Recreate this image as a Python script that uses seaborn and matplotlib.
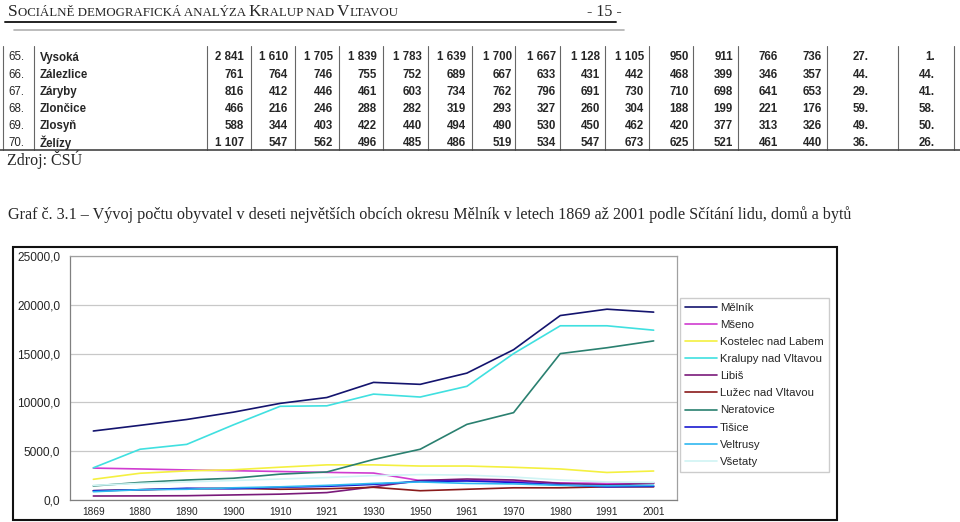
import numpy as np
import pandas as pd
import seaborn as sns
import matplotlib
matplotlib.use("Agg")
import matplotlib.pyplot as plt
from matplotlib.lines import Line2D
from matplotlib.patches import Rectangle

# --- DATA: tabulka (obce 65-70) ---
row_nums = ["65.", "66.", "67.", "68.", "69.", "70."]
row_names = ["Vysoká", "Zálezlice", "Záryby", "Zlončice", "Zlosyň", "Želízy"]
vysoka = ["2 841", "1 610", "1 705", "1 839", "1 783", "1 639", "1 700", "1 667", "1 128", "1 105", "950", "911", "766", "736", "27.", "1."]
zalezlice = ["761", "764", "746", "755", "752", "689", "667", "633", "431", "442", "468", "399", "346", "357", "44.", "44."]
zaryby = ["816", "412", "446", "461", "603", "734", "762", "796", "691", "730", "710", "698", "641", "653", "29.", "41."]
zloncice = ["466", "216", "246", "288", "282", "319", "293", "327", "260", "304", "188", "199", "221", "176", "59.", "58."]
zlosyn = ["588", "344", "403", "422", "440", "494", "490", "530", "450", "462", "420", "377", "313", "326", "49.", "50."]
zelizy = ["1 107", "547", "562", "496", "485", "486", "519", "534", "547", "673", "625", "521", "461", "440", "36.", "26."]
table_rows = [vysoka, zalezlice, zaryby, zloncice, zlosyn, zelizy]

# --- DATA: graf 3.1 ---
years = ["1869", "1880", "1890", "1900", "1910", "1921", "1930", "1950", "1961", "1970", "1980", "1991", "2001"]
melnik = [7070, 7650, 8250, 9000, 9900, 10500, 12050, 11850, 13000, 15400, 18900, 19550, 19250]
mseno = [3270, 3180, 3080, 3000, 2920, 2830, 2760, 1990, 2000, 1900, 1750, 1700, 1750]
kostelec = [2120, 2740, 2980, 3100, 3360, 3600, 3600, 3480, 3480, 3350, 3180, 2820, 2970]
kralupy = [3300, 5200, 5700, 7700, 9600, 9650, 10850, 10550, 11650, 15000, 17850, 17850, 17400]
libis = [410, 420, 440, 520, 600, 760, 1350, 2000, 2150, 2050, 1700, 1550, 1700]
luzec = [950, 1050, 1150, 1200, 1100, 1150, 1300, 950, 1100, 1250, 1250, 1350, 1350]
neratovice = [1440, 1800, 2050, 2230, 2650, 2870, 4150, 5200, 7750, 8950, 15000, 15600, 16300]
tisice = [950, 1050, 1200, 1150, 1300, 1400, 1600, 1900, 1950, 1800, 1550, 1350, 1400]
veltrusy = [850, 1050, 1100, 1250, 1350, 1500, 1700, 1850, 1700, 1650, 1500, 1450, 1500]
vsetaty = [1500, 1700, 1850, 2000, 2150, 2300, 2500, 2600, 2550, 2350, 2050, 1850, 1800]

towns = ["Mělník", "Mšeno", "Kostelec nad Labem", "Kralupy nad Vltavou", "Libiš",
         "Lužec nad Vltavou", "Neratovice", "Tišice", "Veltrusy", "Všetaty"]
series = [melnik, mseno, kostelec, kralupy, libis, luzec, neratovice, tisice, veltrusy, vsetaty]
colors = ["#14146e", "#d03cd0", "#f4f040", "#40e0e0", "#7a1a7a",
          "#8a1a1a", "#2a8070", "#1a1ad0", "#30b8f0", "#cff4f4"]
yticks = [0, 5000, 10000, 15000, 20000, 25000]

caption = ("Graf č. 3.1 – Vývoj počtu obyvatel v deseti největších obcích okresu Mělník "
           "v letech 1869 až 2001 podle Sčítání lidu, domů a bytů")

df = pd.DataFrame({
    "rok": years * len(towns),
    "obec": [t for t in towns for _ in years],
    "obyvatel": [v for s in series for v in s],
})

sns.set_style("white")
plt.rcParams['font.family'] = ['Liberation Sans', 'DejaVu Sans']

W, H = 960, 522
fig = plt.figure(figsize=(9.6, 5.22), dpi=100)


def fx(x):
    return x / W


def fy(y):
    return 1 - y / H


serif = ['Liberation Serif', 'DejaVu Serif']

# --- hlavička stránky (kapitálky) ---
renderer = fig.canvas.get_renderer()
x = 8
for piece, size in [("S", 12.5), ("OCIÁLNĚ DEMOGRAFICKÁ ANALÝZA ", 9.3), ("K", 12.5),
                    ("RALUP NAD ", 9.3), ("V", 12.5), ("LTAVOU", 9.3)]:
    t = fig.text(fx(x), fy(16), piece, fontsize=size, family=serif, va='baseline')
    x += t.get_window_extent(renderer).width
fig.text(fx(587), fy(16), "- 15 -", fontsize=11.5, family=serif, va='baseline')
fig.add_artist(Line2D([fx(5), fx(616)], [fy(22)] * 2, color='#222222', lw=1.4))
fig.add_artist(Line2D([fx(14), fx(624)], [fy(30)] * 2, color='#b0b0b0', lw=1.2))

# --- tabulka ---
col_right = [244, 288, 333, 377, 422, 466, 512, 556, 600, 644, 689, 733, 778, 822, 869, 935]
vlines = [3, 34, 207, 251, 295, 339, 383, 428, 472, 515, 560, 605, 649, 693, 738, 827, 898, 954]
for vx in vlines:
    fig.add_artist(Line2D([fx(vx)] * 2, [fy(46), fy(150)], color='#666666', lw=0.8))
fig.add_artist(Line2D([0, 1], [fy(150)] * 2, color='#444444', lw=1.2))
for i, (num, name, vals) in enumerate(zip(row_nums, row_names, table_rows)):
    ry = 57.5 + i * 17.1
    fig.text(fx(8), fy(ry), num, fontsize=8.3, va='center')
    fig.text(fx(40), fy(ry), name, fontsize=8.3, weight='bold', va='center')
    for r, v in zip(col_right, vals):
        fig.text(fx(r), fy(ry), v, fontsize=8.3, weight='bold', va='center', ha='right')

fig.text(fx(7), fy(160), "Zdroj: ČSÚ", fontsize=11.5, family=serif, va='center')
fig.text(fx(8), fy(215), caption, fontsize=11.6, family=serif, va='center')

# --- graf ---
fig.add_artist(Rectangle((fx(13), fy(520)), (837 - 13) / W, (520 - 247) / H,
                         transform=fig.transFigure, fill=False, edgecolor='#111111', lw=1.5))
ax = fig.add_axes([fx(70), fy(500), (677 - 70) / W, (500 - 256) / H])
sns.lineplot(data=df, x="rok", y="obyvatel", hue="obec", hue_order=towns,
             palette=dict(zip(towns, colors)), sort=False, estimator=None,
             linewidth=1.2, ax=ax)
ax.set_xlim(-0.5, len(years) - 0.5)
ax.set_ylim(0, 25000)
ax.set_yticks(yticks)
ax.set_yticklabels([f"{v},0" for v in yticks])
ax.set_xlabel("")
ax.set_ylabel("")
ax.set_xticks(np.arange(-0.5, len(years), 1), minor=True)
ax.yaxis.grid(True, color='#c8c8c8', lw=0.9)
ax.xaxis.grid(False)
ax.tick_params(axis='x', which='major', length=0, pad=5, labelsize=7.3)
ax.tick_params(axis='x', which='minor', length=4, color='#808080', direction='out')
ax.tick_params(axis='y', length=4, color='#808080', direction='out', pad=3, labelsize=8.6)
for s in ax.spines.values():
    s.set_color('#a0a0a0')
    s.set_linewidth(0.9)
ax.spines['left'].set_color('#808080')
ax.spines['bottom'].set_color('#808080')

handles, labels = ax.get_legend_handles_labels()
ax.get_legend().remove()
fig.legend(handles, labels, loc='upper left', bbox_to_anchor=(fx(680), fy(298)),
           bbox_transform=fig.transFigure, frameon=True, fancybox=False,
           edgecolor='#c0c0c0', fontsize=8.2, handlelength=2.8, handletextpad=0.25,
           labelspacing=0.62, borderpad=0.45, borderaxespad=0)

fig.savefig("out.png", dpi=100)
